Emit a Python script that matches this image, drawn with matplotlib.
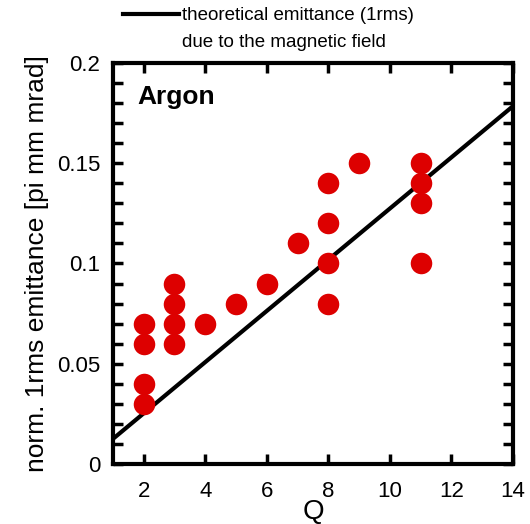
import matplotlib.pyplot as plt
from matplotlib.ticker import MultipleLocator
from matplotlib.lines import Line2D

plt.rcParams['font.family'] = ['Liberation Sans', 'DejaVu Sans']

q = [2, 2, 2, 2, 3, 3, 3, 3, 4, 5, 6, 7, 8, 8, 8, 8, 9, 11, 11, 11, 11]
emit = [0.03, 0.04, 0.06, 0.07, 0.06, 0.07, 0.08, 0.09, 0.07, 0.08, 0.09,
        0.11, 0.08, 0.10, 0.12, 0.14, 0.15, 0.10, 0.13, 0.14, 0.15]

theo_q = [1, 14]
theo_emit = [0.0125, 0.1785]

fig = plt.figure(figsize=(5.30, 5.24), dpi=100)
ax = fig.add_axes([0.213, 0.1145, 0.755, 0.7653])

line, = ax.plot(theo_q, theo_emit, color='black', lw=3)
ax.plot(q, emit, 'o', color='#dd0000', ms=15.5, mec='none', zorder=3)

ax.set_xlim(1, 14)
ax.set_ylim(0, 0.2)
ax.xaxis.set_major_locator(MultipleLocator(2))
ax.yaxis.set_minor_locator(MultipleLocator(0.01))
ax.set_yticks([0, 0.05, 0.1, 0.15, 0.2])
ax.set_yticklabels(['0', '0.05', '0.1', '0.15', '0.2'])
ax.tick_params(which='both', direction='in', top=True, right=True,
               width=2.5, length=7, labelsize=16, pad=9)
ax.tick_params(axis='x', pad=12)
for s in ax.spines.values():
    s.set_linewidth(3)

ax.set_xlabel('Q', fontsize=20, labelpad=-2)
ax.set_ylabel('norm. 1rms emittance [pi mm mrad]', fontsize=19, labelpad=6)
ax.text(0.06, 0.945, 'Argon', transform=ax.transAxes, fontsize=19,
        fontweight='bold', va='top')

blank = Line2D([], [], color='none')
fig.legend([line, blank],
           ['theoretical emittance (1rms)', 'due to the magnetic field'],
           loc='upper left', bbox_to_anchor=(0.21, 1.008), frameon=False,
           fontsize=13.5, handlelength=3.0, handletextpad=0.15,
           labelspacing=0.5, borderaxespad=0.2)

fig.savefig('out.png', dpi=100)
